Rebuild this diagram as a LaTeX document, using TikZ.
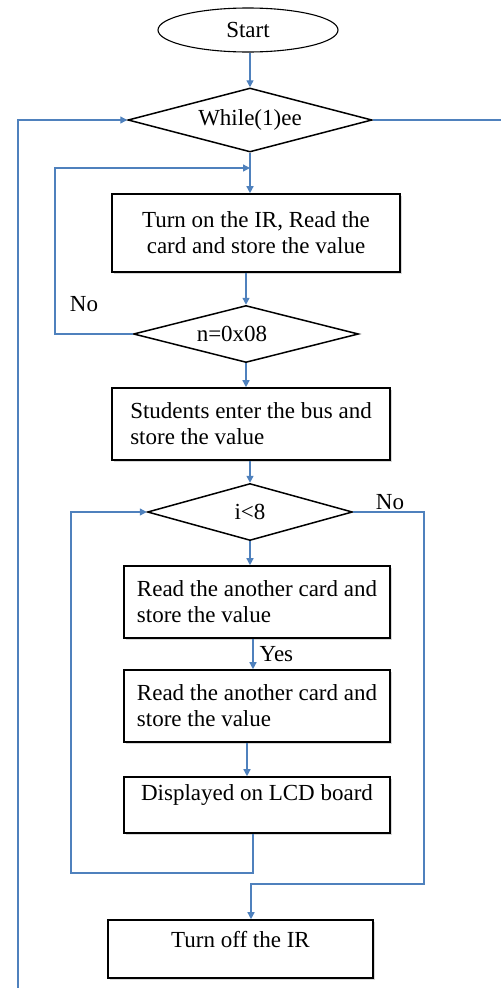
\documentclass[tikz,border=0pt]{standalone}
\usepackage{fontspec}
\setmainfont{Liberation Serif}
\usetikzlibrary{shapes.geometric,arrows.meta,shadows}
\definecolor{flowblue}{HTML}{4F81BD}
\tikzset{
  txt/.style={font=\fontsize{23}{26}\selectfont},
  terminal/.style={ellipse, draw=black, line width=1.1pt, fill=white, inner sep=0pt,
    minimum width=180pt, minimum height=44pt, txt},
  decision/.style={diamond, draw=black, line width=1.5pt, fill=white, inner sep=0pt,
    aspect=3.8, txt},
  stepbox/.style={rectangle, draw=black, line width=1.6pt, fill=white, inner sep=0pt, txt,
    drop shadow={shadow xshift=2pt, shadow yshift=-2pt, fill=black!30}},
  flow/.style={draw=flowblue, line width=1.4pt},
  flowarrow/.style={flow, -{Triangle[length=7pt,width=7pt]}},
  note/.style={txt, inner sep=0pt}
}
\begin{document}
\begin{tikzpicture}[x=1pt,y=-1pt]
\useasboundingbox (0,0) rectangle (501,988);

% shapes
\node[terminal] (start) at (248,30) {Start};
\node[decision, minimum width=244pt, minimum height=64pt] (loop) at (250,120) {While(1)ee};
\node[stepbox, minimum width=288pt, minimum height=78pt, align=center] (readone) at (256,233)
  {Turn on the IR, Read the\\card and store the value};
\node[decision, minimum width=225pt, minimum height=57pt] (cnt) at (246,334) {n=0x08\hspace*{28pt}};
\node[stepbox, minimum width=278pt, minimum height=72pt, align=left] (enter) at (251,424)
  {Students enter the bus and\\store the value};
\node[decision, minimum width=205pt, minimum height=57pt] (cmp) at (250,512) {i<8};
\node[stepbox, minimum width=266pt, minimum height=72pt, align=left] (readtwo) at (257,602)
  {Read the another card and\\store the value};
\node[stepbox, minimum width=266pt, minimum height=72pt, align=left] (readthree) at (257,706)
  {Read the another card and\\store the value};
\node[stepbox, minimum width=266pt, minimum height=56pt, text height=16pt, text depth=26pt] (lcd) at (257,805)
  {Displayed on LCD board};
\node[stepbox, minimum width=265pt, minimum height=58pt, text height=16pt, text depth=20pt] (off) at (240.5,949)
  {Turn off the IR};

% free ends of open connectors
\coordinate (outerfoot) at (18,988);
\coordinate (rightend) at (501,120);
\coordinate (noturn) at (55,168);
\coordinate (backturn) at (71,873);
\coordinate (exitturn) at (424,884);

% connectors
\draw[flowarrow] (start.south -| loop.north) -- (loop.north);
\draw[flowarrow] (outerfoot) |- (loop.west);
\draw[flow] (loop.east) -- (rightend);
\draw[flowarrow] (loop.south) -- (loop.south |- readone.north);
\draw[flowarrow] (cnt.west) -| (noturn) -- (loop.south |- noturn);
\node[note] (nolabel) at (84,304) {No};
\draw[flowarrow] (readone.south -| cnt.north) -- (cnt.north);
\draw[flowarrow] (cnt.south) -- (cnt.south |- enter.north);
\draw[flowarrow] (enter.south -| cmp.north) -- (cmp.north);
\draw[flowarrow] (cmp.south) -- (cmp.south |- readtwo.north);
\draw[flowarrow] ([xshift=-4pt]readtwo.south) -- ([xshift=-4pt]readthree.north)
  node[note, midway, right=6pt] (yes) {Yes};
\draw[flowarrow] ([xshift=-10pt]readthree.south) -- ([xshift=-10pt]lcd.north);
\draw[flowarrow] ([xshift=-4pt]lcd.south) |- (backturn) |- (cmp.west);
\draw[flowarrow] (cmp.east) -| (exitturn) -| ([xshift=10.5pt]off.north);
\node[note] (nolabeltwo) at (390,502) {No};
\end{tikzpicture}
\end{document}
